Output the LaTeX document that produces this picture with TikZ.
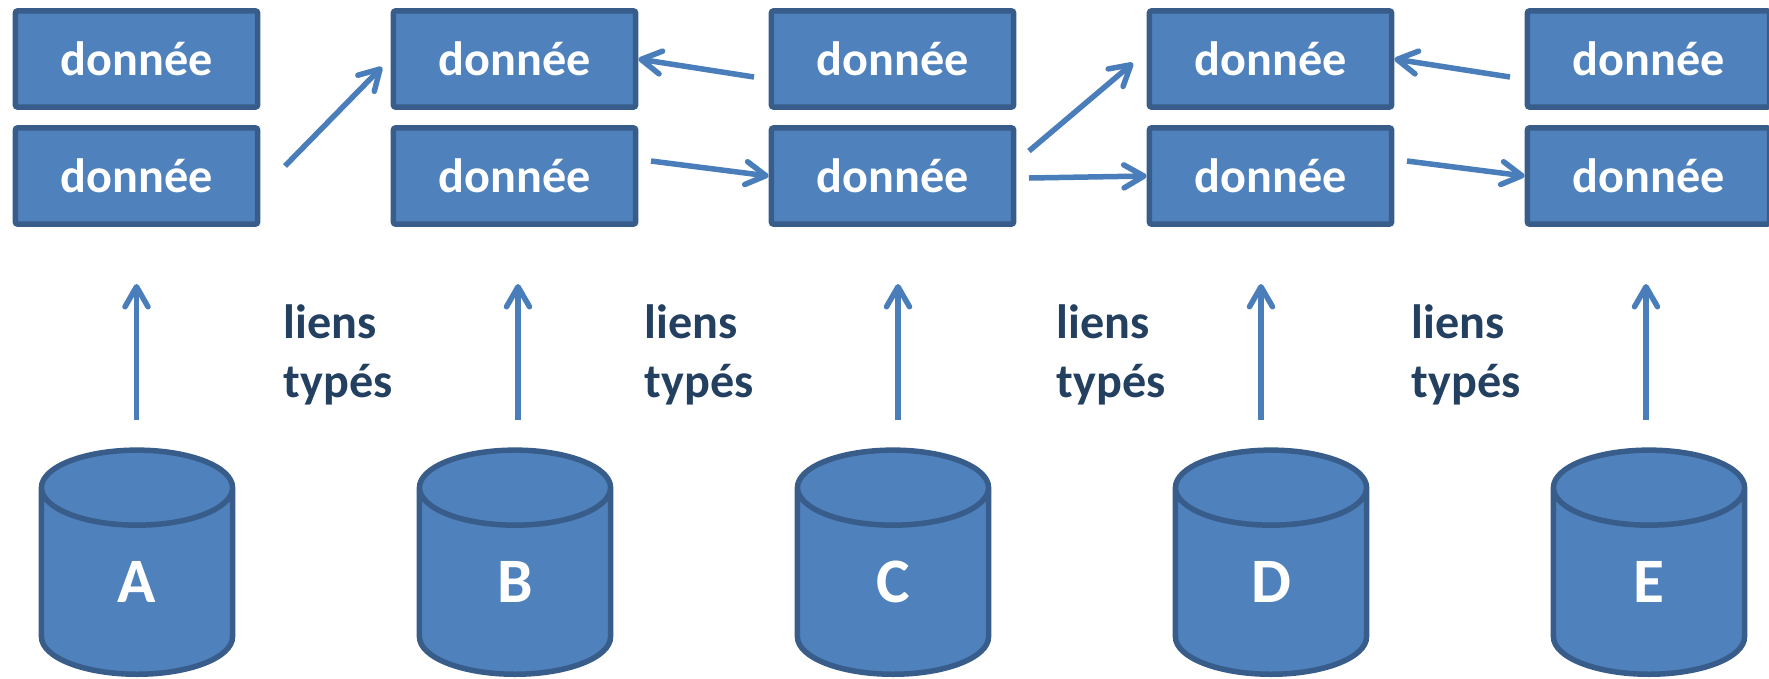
\documentclass[tikz,border=0pt]{standalone}
\usepackage{fontspec}
\setmainfont{Carlito}
\usetikzlibrary{arrows.meta,shapes.geometric}
\definecolor{bluefill}{HTML}{4F81BD}
\definecolor{blueedge}{HTML}{385D8A}
\definecolor{bluearrow}{HTML}{4A7EBB}
\definecolor{bluetext}{HTML}{244061}
\tikzset{
  databox/.style={draw=blueedge,fill=bluefill,line width=0.55mm,rounded corners=0.2mm,minimum width=2.42cm,minimum height=0.96cm,inner sep=0pt,text=white,font=\fontsize{13.7}{16}\selectfont\bfseries},
  database/.style={cylinder,shape border rotate=90,aspect=1.25,draw=blueedge,fill=bluefill,line width=0.55mm,minimum width=1.91cm,minimum height=2.24cm,inner sep=0pt,text width=0.6cm,align=center,text height=0.455cm,text depth=0.045cm,text=white,anchor=bottom,font=\fontsize{18}{20}\selectfont\bfseries},
  linkarrow/.style={draw=bluearrow,line width=0.55mm,-{Straight Barb[length=2mm,width=2.3mm,round]}},
  linklabel/.style={text=bluetext,font=\fontsize{13.7}{16.7}\selectfont\bfseries,align=left,anchor=north west,inner sep=0pt}
}
\begin{document}
\begin{tikzpicture}[x=0.01cm,y=-0.01cm]
\useasboundingbox (0,0) rectangle (1769,678);

\foreach \n/\x in {a/136.5,b/514.5,c/892.5,d/1270.5,e/1648.5} {
  \node[databox] (\n-top) at (\x,59) {donnée};
  \node[databox] (\n-bot) at (\x,176) {donnée};
}
\foreach \n/\l/\x in {a/A/137,b/B/515,c/C/893,d/D/1271,e/E/1649}
  \node[database] (\n-db) at (\x,677) {\l};

\foreach \n/\x in {a/136.5,b/518,c/898,d/1261,e/1646} {
  \coordinate (\n-low) at (\x,420);
  \coordinate (\n-up) at (\x,284);
  \draw[linkarrow] (\n-low) -- (\n-up);
}

\foreach \x in {283,644,1056,1411}
  \node[linklabel] at (\x,304) {liens\\typés};

\coordinate (ab-start) at (285,166);
\coordinate (ab-end) at (382,67);
\coordinate (cb-start) at (754,77);
\coordinate (bc-start) at (651,161);
\coordinate (cd-start) at (1029,151);
\coordinate (cd-end) at (1133,63);
\coordinate (cd-low) at (1029,178);
\coordinate (ed-start) at (1510,77);
\coordinate (de-start) at (1407,161);

\draw[linkarrow] (ab-start) -- (ab-end);
\draw[linkarrow] (cb-start) -- (b-top.east);
\draw[linkarrow] (bc-start) -- (c-bot.west);
\draw[linkarrow] (cd-start) -- (cd-end);
\draw[linkarrow] (cd-low) -- (d-bot.west);
\draw[linkarrow] (ed-start) -- (d-top.east);
\draw[linkarrow] (de-start) -- (e-bot.west);
\end{tikzpicture}
\end{document}
